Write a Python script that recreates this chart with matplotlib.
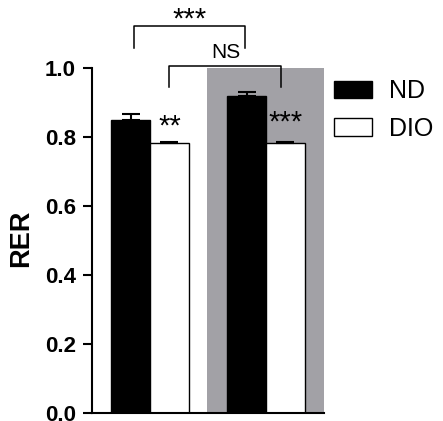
import matplotlib.pyplot as plt
from matplotlib.patches import Patch

plt.rcParams['font.family'] = ['Liberation Sans', 'DejaVu Sans']
estreita = ['Liberation Sans Narrow', 'Liberation Sans']

# valores
grupos = ['ND', 'DIO']
rer_g1 = [0.849, 0.782]
err_g1 = [0.018, 0.003]
rer_g2 = [0.920, 0.782]
err_g2 = [0.009, 0.003]
sig_barras = ['**', '***']

fig = plt.figure(figsize=(4.43, 4.21), dpi=100)
ax = fig.add_axes([0.2077, 0.019, 0.5237, 0.8195])

ax.axvspan(1.97, 5, color='#a2a1a6', lw=0, zorder=0)

largura = 1.0
x1 = [0, 1]
x2 = [3, 4]
cores = ['black', 'white']
for xs, vals, errs in [(x1, rer_g1, err_g1), (x2, rer_g2, err_g2)]:
    for x, v, e, c in zip(xs, vals, errs, cores):
        ax.bar(x, v, width=largura, color=c, edgecolor='black', linewidth=1.0, zorder=2)
        ax.errorbar(x, v, yerr=[[0], [e]], fmt='none', ecolor='black',
                    elinewidth=1.5, capsize=6.8, capthick=1.5, zorder=3)

# asteriscos sobre as barras DIO
ax.text(1, 0.829, sig_barras[0], ha='center', va='center', fontsize=21)
ax.text(4, 0.843, sig_barras[1], ha='center', va='center', fontsize=21)

# colchetes de comparação
def colchete(xa, xb, topo, base, rotulo, y_txt, tam, familia=None):
    ax.plot([xa, xa, xb, xb], [base, topo, topo, base], color='black',
            lw=1.1, clip_on=False)
    ax.text((xa + xb) / 2, y_txt, rotulo, ha='center', va='center',
            fontsize=tam, family=familia, clip_on=False)

colchete(0.08, 2.96, 1.122, 1.058, '***', 1.140, 21)
colchete(1.0, 3.9, 1.006, 0.945, 'NS', 1.046, 15, estreita)

ax.set_xlim(-1, 5)
ax.set_ylim(0, 1.0)
ax.set_yticks([0.0, 0.2, 0.4, 0.6, 0.8, 1.0])
ax.set_yticklabels(['0.0', '0.2', '0.4', '0.6', '0.8', '1.0'], fontsize=16, fontweight='bold')
ax.set_xticks([])
ax.tick_params(axis='y', length=6.5, width=1.5, pad=5)
ax.spines['top'].set_visible(False)
ax.spines['right'].set_visible(False)
ax.spines['left'].set_linewidth(1.5)
ax.spines['bottom'].set_linewidth(1.5)
ax.set_ylabel('RER', fontsize=19.5, fontweight='bold')
ax.yaxis.set_label_coords(-0.25, 0.507)

handles = [Patch(facecolor='black', edgecolor='black', label=grupos[0]),
           Patch(facecolor='white', edgecolor='black', label=grupos[1])]
ax.legend(handles=handles, loc='upper left', bbox_to_anchor=(334 / 443, 1 - 79 / 421),
          bbox_transform=fig.transFigure, frameon=False,
          prop={'family': estreita, 'size': 18},
          handlelength=1.5, handleheight=0.68, handletextpad=0.7,
          labelspacing=0.55, borderpad=0, borderaxespad=0)

fig.savefig('out.png', dpi=100)
